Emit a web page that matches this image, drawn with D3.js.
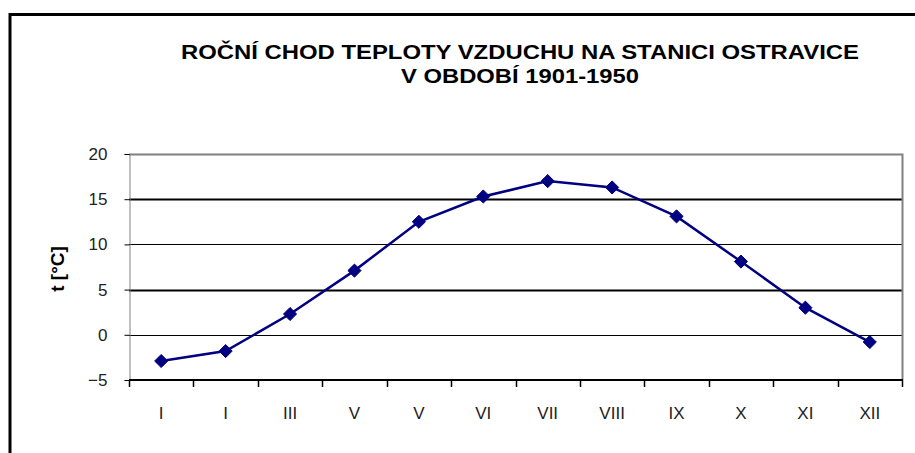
<!DOCTYPE html>
<html>
<head>
<meta charset="utf-8">
<script src="https://cdn.jsdelivr.net/npm/d3@7"></script>
<style>
  body { margin: 0; background: #fff; }
  text { font-family: Arial, 'Liberation Sans', sans-serif; }
</style>
</head>
<body>
<script>
// month labels as they appear on the chart
var months = ['I', 'I', 'III', 'V', 'V', 'VI', 'VII', 'VIII', 'IX', 'X', 'XI', 'XII'];
// mean monthly air temperature, deg C
var temps = [-2.9, -1.8, 2.3, 7.1, 12.5, 15.3, 17.0, 16.3, 13.1, 8.1, 3.0, -0.8];
var yTicks = [-5, 0, 5, 10, 15, 20];
var titleLines = ['ROČNÍ CHOD TEPLOTY VZDUCHU NA STANICI OSTRAVICE', 'V OBDOBÍ 1901-1950'];

var width = 915;
var height = 453;
var margin = {left: 129, right: 13, top: 154, bottom: 73};

var svg = d3
  .select('body')
  .append('svg')
  .attr('width', width)
  .attr('height', height);

// outer frame (left and top only)
svg.append('line')
  .attr('x1', 10).attr('x2', 10)
  .attr('y1', 13).attr('y2', height)
  .attr('stroke', '#000').attr('stroke-width', 3);
svg.append('line')
  .attr('x1', 9).attr('x2', width)
  .attr('y1', 14.5).attr('y2', 14.5)
  .attr('stroke', '#000').attr('stroke-width', 3);

// title
svg.append('g')
  .selectAll('text')
  .data(titleLines)
  .enter()
  .append('text')
  .attr('x', 520)
  .attr('y', function(d, i) { return 59 + i * 24; })
  .attr('text-anchor', 'middle')
  .attr('font-weight', 'bold')
  .attr('font-size', 20)
  .attr('textLength', function(d, i) { return i === 0 ? 678 : 238; })
  .attr('lengthAdjust', 'spacingAndGlyphs')
  .text(function(d) { return d; });

var x = d3.scaleBand()
  .domain(d3.range(months.length))
  .range([margin.left, width - margin.right]);

var y = d3.scaleLinear()
  .domain([-5, 20])
  .range([height - margin.bottom, margin.top]);

// horizontal gridlines
svg.append('g')
  .selectAll('line')
  .data(yTicks.filter(function(d) { return d > -5 && d < 20; }))
  .enter()
  .append('line')
  .attr('x1', margin.left)
  .attr('x2', width - margin.right)
  .attr('y1', function(d) { return Math.round(y(d)) + 0.5; })
  .attr('y2', function(d) { return Math.round(y(d)) + 0.5; })
  .attr('stroke', '#000')
  .attr('stroke-width', function(d) { return d % 10 === 5 ? 2.2 : 1.2; });

// plot frame: top and right in grey
svg.append('path')
  .attr('d', 'M' + margin.left + ',' + (y(20) + 0.5) + 'H' + (width - margin.right + 0.5) + 'V' + y(-5))
  .attr('fill', 'none')
  .attr('stroke', '#808080')
  .attr('stroke-width', 2);

// y axis
var yAxis = svg.append('g')
  .attr('transform', 'translate(' + (margin.left + 0.5) + ',0)')
  .call(d3.axisLeft(y).tickValues(yTicks).tickSize(5).tickPadding(17).tickFormat(d3.format('d')));
yAxis.select('.domain').attr('stroke', '#808080');
yAxis.selectAll('.tick line').attr('stroke', '#000');
yAxis.selectAll('text')
  .attr('font-size', 17)
  .attr('fill', '#222')
  .attr('font-family', 'Arial, Liberation Sans, sans-serif');

// x axis: ticks between categories
var xAxis = svg.append('g')
  .attr('transform', 'translate(0,' + y(-5) + ')');
xAxis.append('line')
  .attr('x1', margin.left)
  .attr('x2', width - margin.right + 1)
  .attr('stroke', '#000')
  .attr('stroke-width', 2);
xAxis.selectAll('line.tick')
  .data(d3.range(months.length + 1))
  .enter()
  .append('line')
  .classed('tick', true)
  .attr('x1', function(d) { return Math.round(margin.left + d * x.step()) + 0.5; })
  .attr('x2', function(d) { return Math.round(margin.left + d * x.step()) + 0.5; })
  .attr('y1', 0)
  .attr('y2', 7)
  .attr('stroke', '#000')
  .attr('stroke-width', 1.5);
xAxis.selectAll('text')
  .data(months)
  .enter()
  .append('text')
  .attr('x', function(d, i) { return x(i) + x.bandwidth() / 2; })
  .attr('y', 39)
  .attr('text-anchor', 'middle')
  .attr('font-size', 17)
  .attr('fill', '#222')
  .text(function(d) { return d; });

// y axis label
svg.append('text')
  .attr('transform', 'translate(64,269) rotate(-90)')
  .attr('text-anchor', 'middle')
  .attr('font-size', 19)
  .attr('font-weight', 'bold')
  .text('t [°C]');

// temperature line
var line = d3.line()
  .x(function(d, i) { return x(i) + x.bandwidth() / 2; })
  .y(function(d) { return y(d); });

svg.append('path')
  .datum(temps)
  .attr('d', line)
  .attr('fill', 'none')
  .attr('stroke', '#000080')
  .attr('stroke-width', 2.5);

svg.append('g')
  .selectAll('path')
  .data(temps)
  .enter()
  .append('path')
  .attr('transform', function(d, i) {
    return 'translate(' + (x(i) + x.bandwidth() / 2) + ',' + y(d) + ')';
  })
  .attr('d', d3.symbol().type(d3.symbolDiamond2).size(110))
  .attr('fill', '#000080')
  .attr('stroke', '#000080')
  .attr('stroke-width', 1);
</script>
</body>
</html>
